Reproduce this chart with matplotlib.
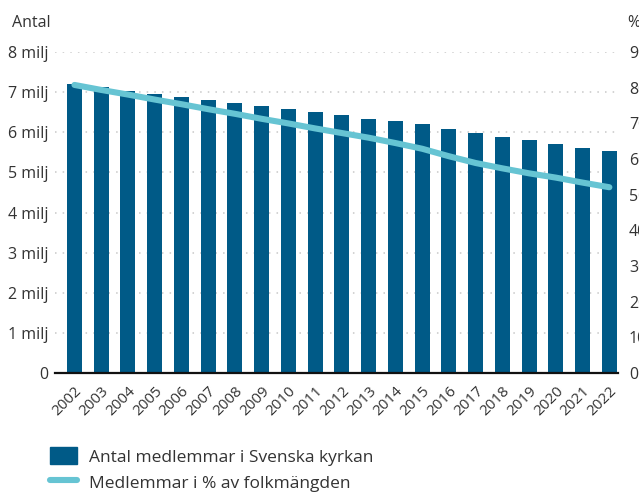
import numpy as np
import matplotlib.pyplot as plt
from matplotlib.patches import Patch
from matplotlib.lines import Line2D
import matplotlib.transforms as mtransforms

plt.rcParams['font.family'] = ['Open Sans', 'DejaVu Sans']

years = [str(y) for y in range(2002, 2023)]
members = [7.20, 7.13, 7.03, 6.96, 6.88, 6.81, 6.73, 6.66, 6.58, 6.51, 6.43,
           6.34, 6.28, 6.21, 6.09, 5.99, 5.89, 5.81, 5.72, 5.62, 5.54]  # miljoner
share = [80.8, 79.4, 78.1, 76.7, 75.4, 74.0, 72.7, 71.3, 70.0, 68.6, 67.3,
         66.0, 64.5, 62.9, 60.8, 58.9, 57.4, 56.0, 54.8, 53.4, 52.1]  # procent
left_ticks = ['0'] + ['%d milj' % i for i in range(1, 9)]

bar_col = '#005a87'
line_col = '#66c4d3'
txt = '#333333'

fig = plt.figure(figsize=(6.39, 4.92), dpi=100)
ax = fig.add_axes([0.086, 0.242, 0.881, 0.652])
ax2 = ax.twinx()

x = np.arange(len(years))
ax.bar(x, members, width=0.56, color=bar_col, zorder=2)
ax2.plot(x, share, color=line_col, lw=4.4, solid_capstyle='round', zorder=3)

ax.set_xlim(-0.73, 20.32)
ax.set_ylim(0, 8)
ax2.set_ylim(0, 90)
ax.set_yticks(range(9))
ax.set_yticklabels(left_ticks)
ax2.set_yticks(range(0, 91, 10))

ax.set_xticks(x)
ax.set_xticklabels(years, rotation=45, ha='right', va='top', rotation_mode='anchor',
                   fontsize=11, color=txt)
offset = mtransforms.ScaledTranslation(5 / 100, 0, fig.dpi_scale_trans)
for lab in ax.get_xticklabels():
    lab.set_transform(lab.get_transform() + offset)
ax.tick_params(axis='x', length=0, pad=8)
ax.tick_params(axis='y', length=0, pad=5, labelsize=11.5, labelcolor=txt)
ax2.tick_params(axis='y', length=0, pad=8, labelsize=11.5, labelcolor=txt)

ax.grid(axis='y', color='#c8c8c8', linestyle=(0, (1, 4)), lw=1.1, zorder=0)
ax.set_axisbelow(True)
for a in (ax, ax2):
    for s in a.spines.values():
        s.set_visible(False)
ax.spines['bottom'].set_visible(True)
ax.spines['bottom'].set_color('#111111')
ax.spines['bottom'].set_linewidth(1.6)
ax.spines['bottom'].set_zorder(5)

fig.text(0.019, 0.953, 'Antal', fontsize=11.5, color=txt, va='center')
fig.text(0.982, 0.953, '%', fontsize=11.5, color=txt, va='center')

handles = [Patch(color=bar_col), Line2D([0], [0], color=line_col, lw=4.4, solid_capstyle='round')]
labels = ['Antal medlemmar i Svenska kyrkan', 'Medlemmar i % av folkmängden']
fig.legend(handles, labels, loc='upper left', bbox_to_anchor=(0.068, 0.105),
           frameon=False, fontsize=12.5, handlelength=1.55, handleheight=1.1,
           handletextpad=0.65, labelspacing=0.45, labelcolor=txt, borderaxespad=0)

fig.savefig('out.png', dpi=100)
